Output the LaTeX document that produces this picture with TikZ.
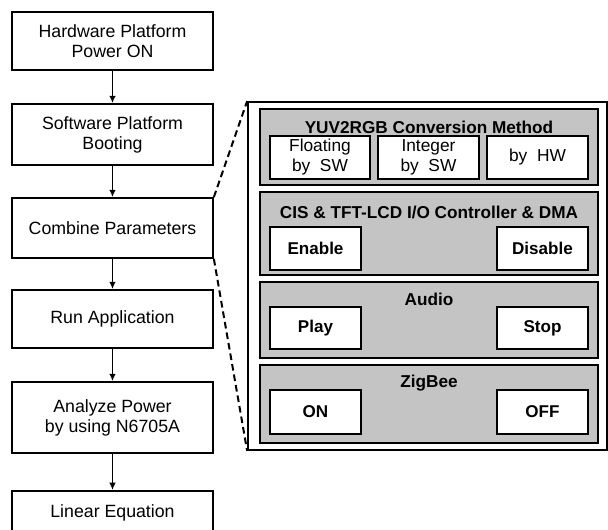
\documentclass[tikz,border=0pt]{standalone}
\usepackage{fontspec}
\setmainfont{Liberation Sans}
\usetikzlibrary{arrows.meta}
\begin{document}
\begin{tikzpicture}[x=0.75pt,y=-0.75pt,
  flowbox/.style={draw=black,line width=1.3pt,fill=white,inner sep=0pt,minimum width=150.75pt,align=center,font=\fontsize{13.3}{15}\selectfont},
  panel/.style={draw=black,line width=1.7pt,fill=black!23,inner sep=0pt,minimum width=253.5pt},
  optbox/.style={draw=black,line width=2.2pt,fill=white,inner sep=0pt,align=center,font=\fontsize{13}{15}\selectfont},
  optbold/.style={optbox,font=\bfseries\fontsize{12.8}{15}\selectfont},
  ptitle/.style={font=\bfseries\fontsize{12.9}{15}\selectfont,inner sep=0pt},
  flowarrow/.style={draw=black,line width=1.2pt,-{Latex[length=5.5pt,width=5pt]}},
  zoomline/.style={draw=black,line width=1.5pt,dash pattern=on 5pt off 3pt}
]
\useasboundingbox (0,0) rectangle (608,530);
\clip (0,0) rectangle (608,530);
% left flow
\node[flowbox,minimum height=43.5pt] (hw) at (112.5,41) {Hardware Platform\\Power ON};
\node[flowbox,minimum height=45.75pt] (sw) at (112.5,134.5) {Software Platform\\Booting};
\node[flowbox,minimum height=45pt] (cp) at (112.5,228) {Combine Parameters};
\node[flowbox,minimum height=43.5pt] (ra) at (112.5,319) {Run Application};
\node[flowbox,minimum height=53.25pt] (ap) at (112.5,417.5) {Analyze Power\\by using N6705A};
\node[flowbox,minimum height=43.5pt,anchor=north] (le) at (112.5,490) {};
\node[font=\fontsize{13.3}{15}\selectfont] (letext) at (112.5,513) {Linear Equation};
\draw[flowarrow] (hw) -- (sw);
\draw[flowarrow] (sw) -- (cp);
\draw[flowarrow] (cp) -- (ra);
\draw[flowarrow] (ra) -- (ap);
\draw[flowarrow] (ap) -- (le);
% outer box
\node[draw=black,line width=1.3pt,fill=white,inner sep=0pt,minimum width=269.25pt,minimum height=261pt] (outer) at (427.5,276) {};
\draw[zoomline] (cp.north east) -- (outer.north west);
\draw[zoomline] (cp.south east) -- (outer.south west);
% panels
\node[panel,minimum height=57pt] (yuv) at (429,147) {};
\node[panel,minimum height=62.25pt] (cis) at (429,233.5) {};
\node[panel,minimum height=57pt] (aud) at (429,320) {};
\node[panel,minimum height=58.5pt] (zig) at (429,404) {};
\node[ptitle] (yuvt) at (429,127) {YUV2RGB Conversion Method};
\node[ptitle] (cist) at (429,212) {CIS \& TFT-LCD I/O Controller \& DMA};
\node[ptitle] (audt) at (429,299) {Audio};
\node[ptitle] (zigt) at (429,383) {ZigBee};
% YUV options
\node[optbox,minimum width=75pt,minimum height=32.25pt] (flt) at (320,157.5) {Floating\\by\ \ SW};
\node[optbox,minimum width=75.75pt,minimum height=32.25pt] (int) at (428.5,157.5) {Integer\\by\ \ SW};
\node[optbox,minimum width=75.75pt,minimum height=32.25pt] (hwb) at (537.5,157.5) {by\ \ HW};
% CIS options
\node[optbold,minimum width=68.25pt,minimum height=32.25pt] (en) at (315.5,248.5) {Enable};
\node[optbold,minimum width=68.25pt,minimum height=32.25pt] (dis) at (542.5,248.5) {Disable};
% Audio options
\node[optbold,minimum width=68.25pt,minimum height=31.5pt] (play) at (315.5,328) {Play};
\node[optbold,minimum width=68.25pt,minimum height=31.5pt] (stop) at (542.5,328) {Stop};
% ZigBee options
\node[optbold,minimum width=68.25pt,minimum height=33pt] (on) at (315.5,412) {ON};
\node[optbold,minimum width=68.25pt,minimum height=33pt] (off) at (542.5,412) {OFF};
\end{tikzpicture}
\end{document}
